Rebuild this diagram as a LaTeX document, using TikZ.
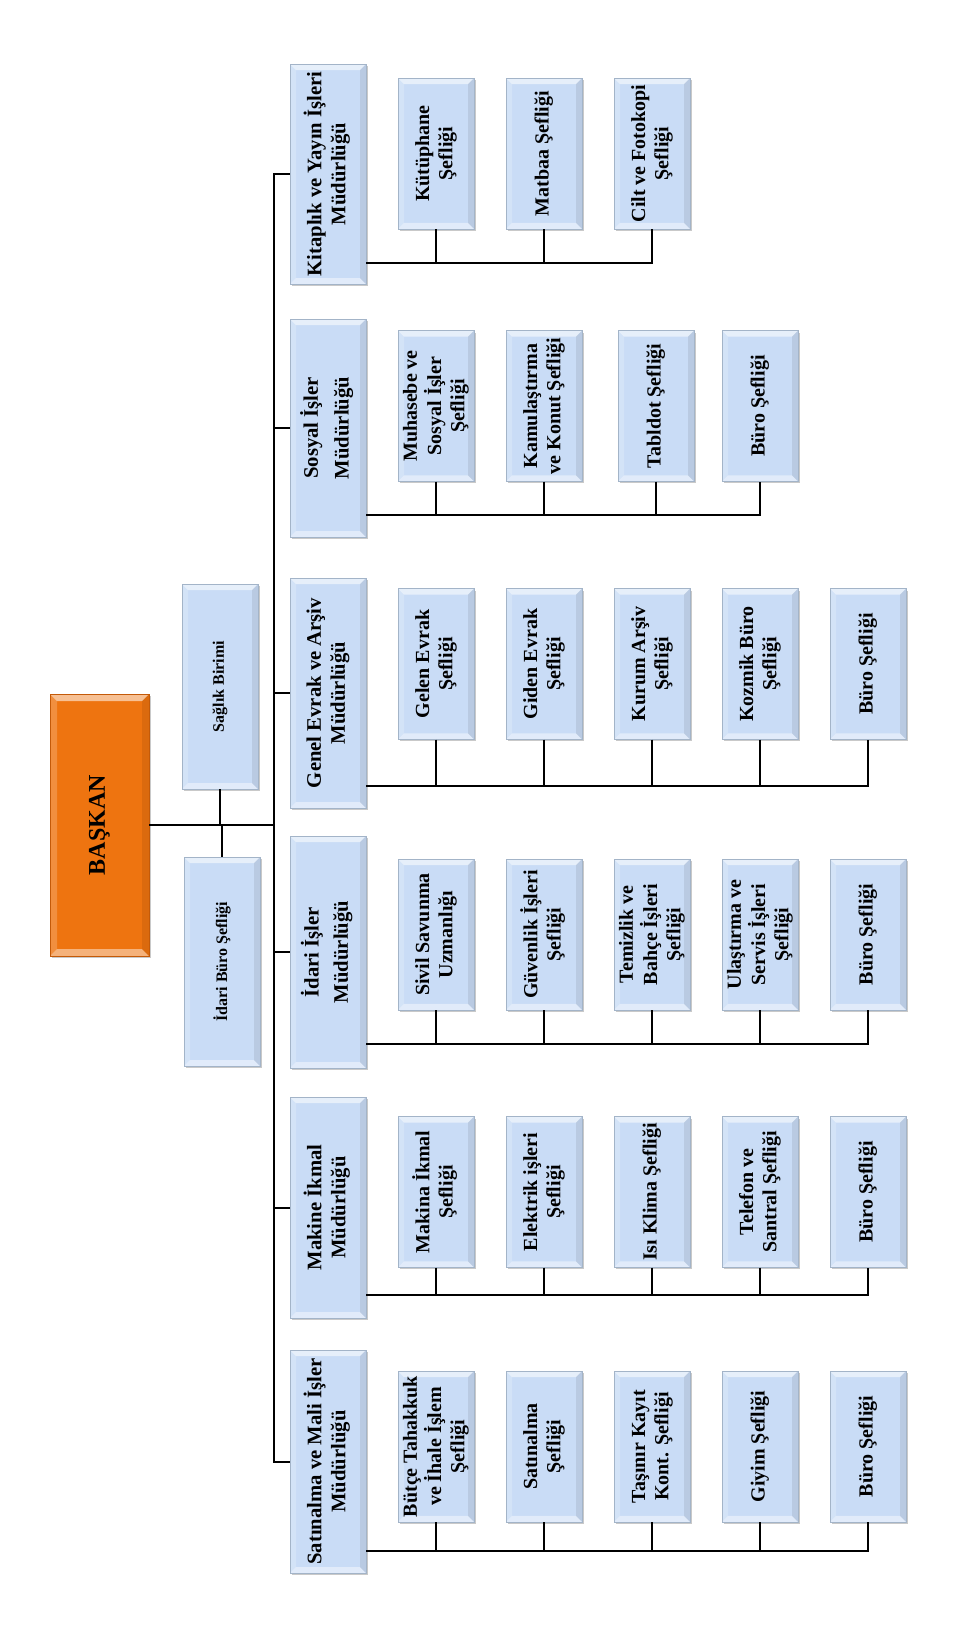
\documentclass[tikz,border=0pt]{standalone}
\usepackage{fontspec}
\setmainfont{Liberation Serif}
\usepackage{graphicx}
\usetikzlibrary{calc,shadows}
\definecolor{boxblue}{HTML}{C9DCF6}
\definecolor{boxedge}{HTML}{A3B4C8}
\definecolor{bossorange}{HTML}{EE7410}
\definecolor{bossedge}{HTML}{C45A08}
\newcommand\vtext[1]{\rotatebox{90}{\begin{tabular}{@{}c@{}}#1\end{tabular}}}
\tikzset{
  bevel/.style={path picture={
    \path (path picture bounding box.north west) coordinate (pa)
          (path picture bounding box.south east) coordinate (pb)
          (path picture bounding box.north east) coordinate (pc)
          (path picture bounding box.south west) coordinate (pd);
    \fill[white,opacity=.55] (pa) -- (pc) -- ($(pc)+(-#1,#1)$) -- ($(pa)+(#1,#1)$) -- cycle;
    \fill[white,opacity=.45] (pd) -- (pb) -- ($(pb)+(-#1,-#1)$) -- ($(pd)+(#1,-#1)$) -- cycle;
    \fill[white,opacity=.2] (pa) -- (pd) -- ($(pd)+(#1,-#1)$) -- ($(pa)+(#1,#1)$) -- cycle;
    \fill[black,opacity=.08] (pc) -- (pb) -- ($(pb)+(-#1,-#1)$) -- ($(pc)+(-#1,#1)$) -- cycle;
  }},
  unit/.style={draw=boxedge, line width=0.5pt, fill=boxblue, inner sep=0pt, bevel=6,
    drop shadow={shadow xshift=1.5pt, shadow yshift=-1.5pt, fill=black!60, opacity=.35}},
  dirbox/.style={unit, minimum width=57pt, minimum height=#1*0.75pt,
    font=\bfseries\fontsize{15.5}{18}\selectfont},
  chbox/.style={unit, minimum width=57pt, minimum height=113pt,
    font=\bfseries\fontsize{15}{17.5}\selectfont},
  sidebox/.style={unit, minimum width=57pt, minimum height=#1*0.75pt,
    font=\bfseries\fontsize{12}{14}\selectfont},
  boss/.style={draw=bossedge, line width=0.5pt, fill=bossorange, inner sep=0pt, bevel=7,
    minimum width=74.25pt, minimum height=196.5pt,
    font=\bfseries\fontsize{18}{20}\selectfont,
    drop shadow={shadow xshift=1.5pt, shadow yshift=-1.5pt, fill=black!60, opacity=.35}},
  conn/.style={line width=1.5pt, black},
  thinconn/.style={line width=1.1pt, black},
}
\begin{document}
\begin{tikzpicture}[x=0.75pt, y=-0.75pt]
\fill[white] (0,0) rectangle (971,1628);
\useasboundingbox (0,0) rectangle (971,1628);

% top level
\node[boss] (baskan) at (99.5,825) {\rotatebox{90}{BAŞKAN}};
\node[sidebox=205] (saglik) at (220,686.5) {\rotatebox{90}{Sağlık Birimi}};
\node[sidebox=209] (idburo) at (222,961.5) {\rotatebox{90}{İdari Büro Şefliği}};

% directorates
\node[dirbox=220] (dK) at (328,174) {\vtext{Kitaplık ve Yayın İşleri\\Müdürlüğü}};
\node[dirbox=218] (dS) at (328,428) {\vtext{Sosyal İşler\\[5pt]Müdürlüğü}};
\node[dirbox=230] (dG) at (328,693) {\vtext{Genel Evrak ve Arşiv\\Müdürlüğü}};
\node[dirbox=232] (dI) at (328,952) {\vtext{İdari İşler\\[4pt]Müdürlüğü}};
\node[dirbox=221] (dM) at (328,1207.5) {\vtext{Makine İkmal\\Müdürlüğü}};
\node[dirbox=223] (dT) at (328,1461.5) {\vtext{Satınalma ve Mali İşler\\Müdürlüğü}};

% Kitaplik children
\node[chbox] (k1) at (436,153.5) {\vtext{Kütüphane\\Şefliği}};
\node[chbox] (k2) at (544,153.5) {\vtext{Matbaa Şefliği}};
\node[chbox] (k3) at (652,153.5) {\vtext{Cilt ve Fotokopi\\Şefliği}};
% Sosyal children
\node[chbox] (s1) at (436,406) {\vtext{Muhasebe ve\\Sosyal İşler\\Şefliği}};
\node[chbox] (s2) at (544,406) {\vtext{Kamulaştırma\\ve Konut Şefliği}};
\node[chbox] (s3) at (656,406) {\vtext{Tabldot Şefliği}};
\node[chbox] (s4) at (760,406) {\vtext{Büro Şefliği}};
% Genel Evrak children
\node[chbox] (g1) at (436,664) {\vtext{Gelen Evrak\\Şefliği}};
\node[chbox] (g2) at (544,664) {\vtext{Giden Evrak\\Şefliği}};
\node[chbox] (g3) at (652,664) {\vtext{Kurum Arşiv\\Şefliği}};
\node[chbox] (g4) at (760,664) {\vtext{Kozmik Büro\\Şefliği}};
\node[chbox] (g5) at (868,664) {\vtext{Büro Şefliği}};
% Idari Isler children
\node[chbox] (i1) at (436,934.5) {\vtext{Sivil Savunma\\Uzmanlığı}};
\node[chbox] (i2) at (544,934.5) {\vtext{Güvenlik İşleri\\Şefliği}};
\node[chbox] (i3) at (652,934.5) {\vtext{Temizlik ve\\Bahçe İşleri\\Şefliği}};
\node[chbox] (i4) at (760,934.5) {\vtext{Ulaştırma ve\\Servis İşleri\\Şefliği}};
\node[chbox] (i5) at (868,934.5) {\vtext{Büro Şefliği}};
% Makine children
\node[chbox] (m1) at (436,1192) {\vtext{Makina İkmal\\Şefliği}};
\node[chbox] (m2) at (544,1192) {\vtext{Elektrik işleri\\Şefliği}};
\node[chbox] (m3) at (652,1192) {\vtext{Isı Klima Şefliği}};
\node[chbox] (m4) at (760,1192) {\vtext{Telefon ve\\Santral Şefliği}};
\node[chbox] (m5) at (868,1192) {\vtext{Büro Şefliği}};
% Satinalma children
\node[chbox] (t1) at (436,1446.5) {\vtext{Bütçe Tahakkuk\\ve İhale İşlem\\Şefliği}};
\node[chbox] (t2) at (544,1446.5) {\vtext{Satınalma\\Şefliği}};
\node[chbox] (t3) at (652,1446.5) {\vtext{Taşınır Kayıt\\Kont. Şefliği}};
\node[chbox] (t4) at (760,1446.5) {\vtext{Giyim Şefliği}};
\node[chbox] (t5) at (868,1446.5) {\vtext{Büro Şefliği}};

% connectors: top level
\coordinate (spine) at (274,0);
\draw[conn] (baskan.east) -- (baskan.east -| spine);
\draw[thinconn] (saglik.south) -- (saglik.south |- baskan.east);
\draw[thinconn] (idburo.north) -- (idburo.north |- baskan.east);
\draw[conn] (dK.west) -- (dK.west -| spine) -- (dT.west -| spine) -- (dT.west);
\foreach \d in {dS,dG,dI,dM} \draw[conn] (\d.west -| spine) -- (\d.west);

% buses
\coordinate (busK) at (0,263);
\coordinate (busS) at (0,515);
\coordinate (busG) at (0,786);
\coordinate (busI) at (0,1044);
\coordinate (busM) at (0,1295);
\coordinate (busT) at (0,1551);
\draw[conn] (dK.east |- busK) -- (k3.south |- busK) -- (k3.south);
\foreach \n in {k1,k2} \draw[conn] (\n.south) -- (\n.south |- busK);
\draw[conn] (dS.east |- busS) -- (s4.south |- busS) -- (s4.south);
\foreach \n in {s1,s2,s3} \draw[conn] (\n.south) -- (\n.south |- busS);
\draw[conn] (dG.east |- busG) -- (g5.south |- busG) -- (g5.south);
\foreach \n in {g1,g2,g3,g4} \draw[conn] (\n.south) -- (\n.south |- busG);
\draw[conn] (dI.east |- busI) -- (i5.south |- busI) -- (i5.south);
\foreach \n in {i1,i2,i3,i4} \draw[conn] (\n.south) -- (\n.south |- busI);
\draw[conn] (dM.east |- busM) -- (m5.south |- busM) -- (m5.south);
\foreach \n in {m1,m2,m3,m4} \draw[conn] (\n.south) -- (\n.south |- busM);
\draw[conn] (dT.east |- busT) -- (t5.south |- busT) -- (t5.south);
\foreach \n in {t1,t2,t3,t4} \draw[conn] (\n.south) -- (\n.south |- busT);
\end{tikzpicture}
\end{document}
